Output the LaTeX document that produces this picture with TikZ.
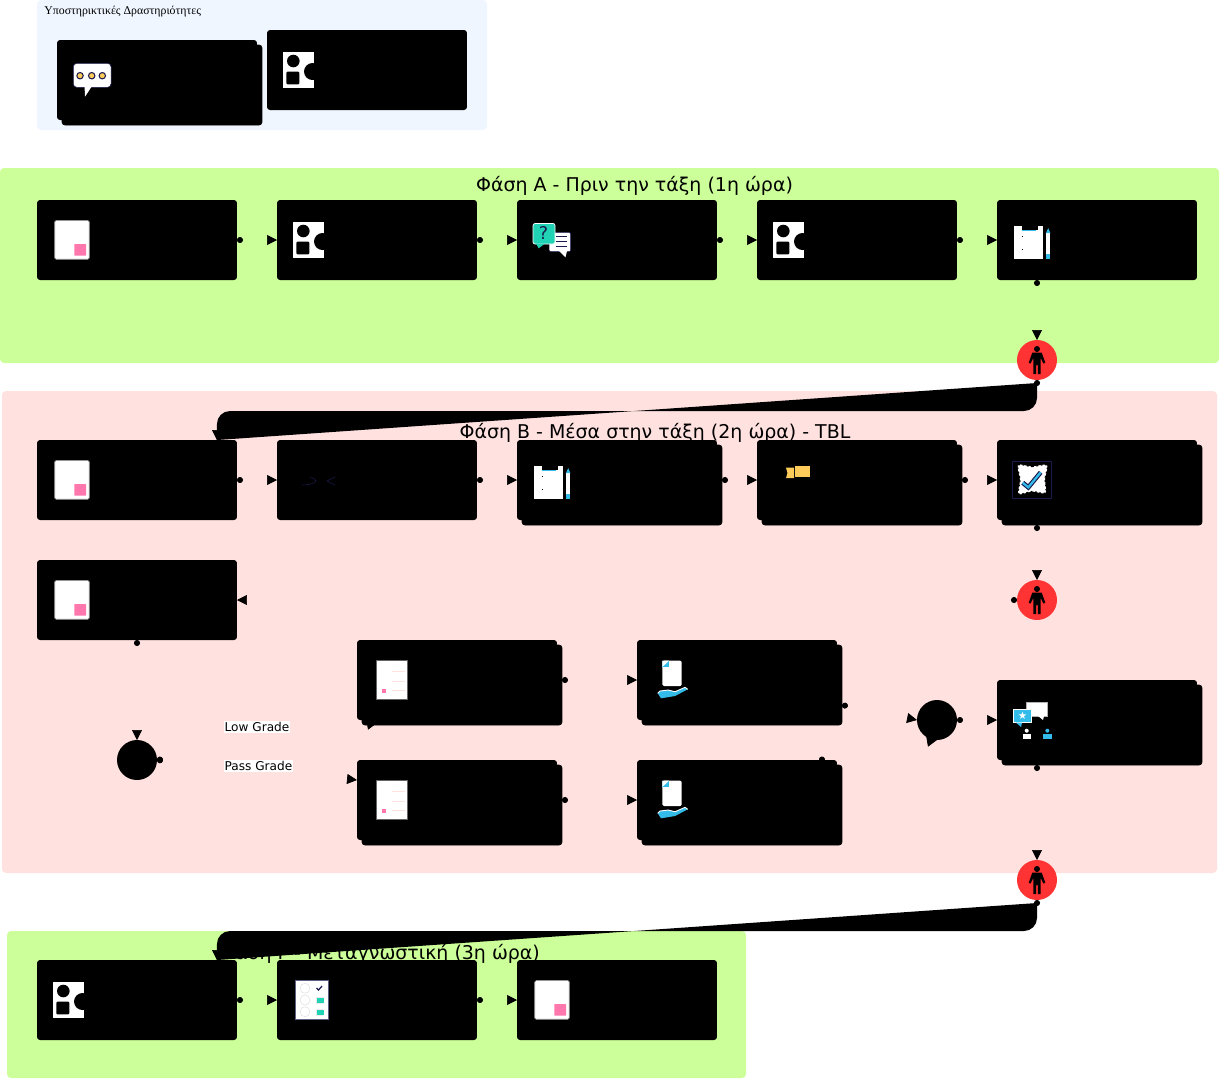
\documentclass[tikz,border=0pt]{standalone}
\usepackage{fontspec}
\setmainfont{DejaVu Sans}
\newfontfamily\supfont{Liberation Serif}
\usetikzlibrary{arrows.meta, positioning, calc, shadows}
\definecolor{phgreen}{HTML}{CCFF99}
\definecolor{phpink}{HTML}{FFE2DF}
\definecolor{supblue}{HTML}{EFF6FF}
\definecolor{alarm}{HTML}{FF3333}
\definecolor{navyi}{HTML}{1A1A4E}
\definecolor{pinki}{HTML}{FF77AD}
\definecolor{tealq}{HTML}{20D3B5}
\definecolor{cyani}{HTML}{33BBEA}
\definecolor{yellowi}{HTML}{FFCC5C}
\definecolor{greyi}{HTML}{666666}

\tikzset{
  actbox/.style={rectangle, fill=black, rounded corners=0.06cm, minimum width=4cm,
    minimum height=1.6cm, inner sep=0pt, outer sep=0pt},
  stackbox/.style={actbox, copy shadow={shadow xshift=0.1cm, shadow yshift=-0.1cm, fill=black}},
  gatenode/.style={circle, fill=black, minimum size=0.8cm, inner sep=0pt, outer sep=0pt},
  stopnode/.style={gatenode, fill=alarm},
  conn/.style={tips, black, {Circle[length=0.12cm, sep=0pt]}-{Triangle[length=0.2cm, width=0.2cm, sep=0pt]}},
  fatfill/.style={fill=black, rounded corners=0.26cm},
  phasetitle/.style={font=\fontsize{10.8}{12}\selectfont, text=black, inner sep=0pt},
  gradelabel/.style={font=\fontsize{6.9}{8}\selectfont, fill=white, inner sep=0.5pt}
}

% Icons, placed from the top left corner of their box
\newcommand{\iconpage}[1]{\begin{scope}[shift={(#1.north west)}]
  \fill[white, draw=greyi!70, line width=0.4pt, rounded corners=0.03cm] (17.7,20.5) rectangle (52.3,59.3);
  \fill[pinki, rounded corners=0.01cm] (37.3,44) rectangle (49,55.7);
\end{scope}}
\newcommand{\iconshapes}[1]{\begin{scope}[shift={(#1.north west)}]
  \fill[white] (16,22) rectangle (47,58);
  \fill[black] (26.3,31) circle (6.3);
  \fill[black, rounded corners=0.02cm] (19.3,41.7) rectangle (32.3,54.3);
  \fill[black] (45.5,41.5) circle (8.5);
\end{scope}}
\newcommand{\iconclip}[1]{\begin{scope}[shift={(#1.north west)}]
  \fill[white] (16.5,25.5) rectangle (46,59);
  \fill[black] (25,25.5) rectangle (41,30);
  \fill[cyani] (25,30) rectangle (39,31);
  \fill[black] (24.5,35.5) rectangle (26,36.5);
  \fill[black] (24.5,48.5) rectangle (26,49.5);
  \fill[white] (49,33) rectangle (53.3,54);
  \fill[cyani] (49,33) -- (51.2,28) -- (53.3,33) -- cycle;
  \fill[cyani] (49,54) rectangle (53.3,59);
\end{scope}}
\newcommand{\icondoc}[1]{\begin{scope}[shift={(#1.north west)}]
  \fill[white, draw=greyi, line width=0.4pt] (19.7,20.7) rectangle (50.3,59.3);
  \fill[pinki] (24.7,49) rectangle (29,53);
  \draw[phpink, line width=0.3pt] (34.7,31) -- (48,31) (34.7,41) -- (48,41) (34.7,50) -- (48,50);
\end{scope}}
\newcommand{\iconhand}[1]{\begin{scope}[shift={(#1.north west)}]
  \fill[white, rounded corners=0.03cm] (25.3,20.7) rectangle (44.7,46);
  \fill[cyani] (25.3,20.7) -- (32,20.7) -- (32,27) -- (25.3,27) -- cycle;
  \fill[white] (25.3,27) -- (32,20.7) -- (25.3,20.7) -- cycle;
  \fill[cyani] (20.7,53.3) -- (24,58.3) -- (38,56) -- (50.7,49.3) -- (48,47.3) -- (38,51.7) -- (31,50) -- (23,51) -- cycle;
  \draw[white, line width=0.5pt] (20.7,53.3) -- (23,51) -- (31,50) -- (38,51.7) -- (48,47.3) -- (50.7,49.3);
\end{scope}}

\begin{document}
\begin{tikzpicture}[x=0.02cm, y=-0.02cm]
\useasboundingbox (0,0) rectangle (1221,1080);

% Phase panels
\fill[supblue, rounded corners=0.08cm] (37,0) rectangle (487,130);
\fill[phgreen, rounded corners=0.08cm] (0,168) rectangle (1219,363);
\fill[phpink, rounded corners=0.08cm] (2,391) rectangle (1217,873);
\fill[phgreen, rounded corners=0.08cm] (7,931) rectangle (746,1078);

% Titles
\node[font=\supfont\fontsize{6.73}{8}\selectfont, anchor=west, inner sep=0pt] (suptitle) at (44,11.5)
  {Υποστηρικτικές Δραστηριότητες};
\node[phasetitle] (titlea) at (634.5,186) {Φάση Α - Πριν την τάξη (1η ώρα)};
\node[phasetitle] (titleb) at (655,433) {Φάση Β - Μέσα στην τάξη (2η ώρα) - TBL};
\node[phasetitle] (titlec) at (380,954) {Φάση Γ - Μεταγνωστική (3η ώρα)};

% Support activities
\node[stackbox] (sa) at (157,80) {};
\node[actbox] (sb) at (367,70) {};

% Phase A
\foreach \nm/\xx in {a1/137, a2/377, a3/617, a4/857, a5/1097}
  \node[actbox] (\nm) at (\xx,240) {};
\node[stopnode] (stopa) at (1037,360) {};

% Phase B
\node[actbox] (b1) at (137,480) {};
\node[actbox] (b2) at (377,480) {};
\node[stackbox] (b3) at (617,480) {};
\node[stackbox] (b4) at (857,480) {};
\node[stackbox] (b5) at (1097,480) {};
\node[stopnode] (stopb) at (1037,600) {};
\node[actbox] (b6) at (137,600) {};
\node[gatenode] (split) at (137,760) {};
\node[stackbox] (low) at (457,680) {};
\node[stackbox] (pass) at (457,800) {};
\node[stackbox] (fb1) at (737,680) {};
\node[stackbox] (fb2) at (737,800) {};
\node[gatenode] (merge) at (937,720) {};
\node[stackbox] (rev) at (1097,720) {};
\node[stopnode] (stopc) at (1037,880) {};

% Phase C
\node[actbox] (c1) at (137,1000) {};
\node[actbox] (c2) at (377,1000) {};
\node[actbox] (c3) at (617,1000) {};

% Icons on the boxes
\foreach \nm in {a1, b1, b6, c3} \iconpage{\nm};
\foreach \nm in {sb, a2, a4, c1} \iconshapes{\nm};
\foreach \nm in {a5, b3} \iconclip{\nm};
\foreach \nm in {low, pass} \icondoc{\nm};
\foreach \nm in {fb1, fb2} \iconhand{\nm};

% Speech bubble with dots
\begin{scope}[shift={(sa.north west)}]
  \fill[white, draw=navyi, line width=0.3pt, rounded corners=0.07cm] (16.3,23.3) rectangle (54,47.3);
  \fill[white] (27.5,46) -- (28,56.7) -- (35,46) -- cycle;
  \foreach \xx in {23, 34.7, 45.3}
    \fill[yellowi, draw=navyi, line width=0.6pt] (\xx,35.7) circle (3.2);
\end{scope}

% Question and answer bubbles
\begin{scope}[shift={(a3.north west)}]
  \fill[white, draw=navyi, line width=0.3pt, rounded corners=0.04cm] (32,32.3) rectangle (53.7,51.7);
  \fill[white] (42,51) -- (48.4,57.3) -- (50,51) -- cycle;
  \draw[navyi, line width=0.5pt] (39.4,36.7) -- (50,36.7) (39.4,41.7) -- (50,41.7) (39.4,46.7) -- (50,46.7);
  \fill[tealq, draw=white, line width=0.4pt, rounded corners=0.04cm] (16,23.5) rectangle (38,44);
  \fill[tealq] (19,43.5) -- (21.6,48.3) -- (28,43.5) -- cycle;
  \node[text=navyi, font=\fontsize{10}{10}\selectfont, inner sep=0pt] (qmark) at (26.5,33) {?};
\end{scope}

% Two small arcs on the dark box
\begin{scope}[shift={(b2.north west)}]
  \draw[navyi, line width=0.3pt] (33,37.5) .. controls (37,38) and (39,40) .. (39,41) .. controls (37,44) and (30,45) .. (25,45);
  \draw[navyi, line width=0.3pt] (58,37) -- (50,41) -- (58,45);
\end{scope}

% Yellow notes
\begin{scope}[shift={(b4.north west)}]
  \fill[yellowi] (29,27.7) -- (37,27.7) -- (37,38) -- (29,38) -- (30.5,33) -- cycle;
  \fill[yellowi] (38,25.7) rectangle (53.3,37);
\end{scope}

% Stamp with check mark
\begin{scope}[shift={(b5.north west)}]
  \draw[navyi, line width=0.4pt] (15.3,21) rectangle (54.7,58.3);
  \fill[white] plot[smooth cycle, tension=0.5] coordinates
    {(21,25) (35,26.5) (50,25) (48,39) (48.5,53) (35,51.5) (21.5,54) (23,40)};
  \draw[black, line width=0.7pt, dash pattern=on 1pt off 1.5pt] plot[smooth cycle, tension=0.5] coordinates
    {(21,25) (35,26.5) (50,25) (48,39) (48.5,53) (35,51.5) (21.5,54) (23,40)};
  \draw[navyi, line width=2.6pt] (25.7,42.7) -- (31.3,47.3) -- (43.7,32.3);
  \draw[cyani, line width=1.3pt] (25.7,42.7) -- (31.3,47.3) -- (43.7,32.3);
\end{scope}

% Review bubbles and people
\begin{scope}[shift={(rev.north west)}]
  \fill[white, draw=greyi!50, line width=0.3pt] (29,22.3) rectangle (50.7,36);
  \fill[white] (41,36) -- (46,40) -- (47,36) -- cycle;
  \fill[cyani, draw=white, line width=0.4pt] (16.3,29.3) rectangle (34,42.7);
  \fill[cyani] (19,42.7) -- (24,47) -- (25,42.7) -- cycle;
  \node[text=white, font=\fontsize{6}{6}\selectfont, inner sep=0pt] (revstar) at (25.5,36) {★};
  \fill[white] (29.7,50.7) circle (2);
  \fill[white] (25.5,54) rectangle (34,59);
  \fill[cyani] (50.3,50.7) circle (2);
  \fill[cyani] (46,54) rectangle (54.5,59);
\end{scope}

% Survey sheet
\begin{scope}[shift={(c2.north west)}]
  \fill[white, draw=navyi!70, line width=0.5pt] (18.3,20.7) rectangle (51.3,59);
  \foreach \yy in {28.3, 40, 51.7}
    \draw[black!12, line width=0.3pt] (28,\yy) circle (5);
  \draw[navyi, line width=0.7pt] (39.5,28) -- (41.5,30) -- (45,26);
  \foreach \yy in {40.5, 52} {
    \fill[black!8] (39,\yy-3.5) rectangle (46,\yy+3.5);
    \fill[tealq] (40,\yy-2.5) rectangle (46.5,\yy+2.5);
  }
\end{scope}

% People on the red circles
\foreach \nm in {stopa, stopb, stopc} {
\begin{scope}[shift={(\nm.center)}]
  \fill[black] (0,-11) circle (3);
  \fill[black] (-4.7,-7.3) -- (4.7,-7.3) -- (8.3,2.7) -- (6.5,3.5) -- (3.7,-2) -- (3.7,14) -- (0.8,14) -- (0.8,5)
    -- (-0.8,5) -- (-0.8,14) -- (-3.7,14) -- (-3.7,-2) -- (-6.5,3.5) -- (-8.3,2.7) -- cycle;
\end{scope}
}

% Grade labels
\node[gradelabel] (lowlabel) at (257,727) {Low Grade};
\node[gradelabel] (passlabel) at (258.5,766) {Pass Grade};

% Entry points
\coordinate (b1in) at ($(b1.north west)!0.9!(b1.north east)$);
\coordinate (c1in) at ($(c1.north west)!0.9!(c1.north east)$);
\coordinate (a5out) at ($(a5.south west)!0.2!(a5.south east)$);
\coordinate (b5out) at ($(b5.south west)!0.2!(b5.south east)+(0,5)$);
\coordinate (revout) at ($(rev.south west)!0.2!(rev.south east)+(0,5)$);
\coordinate (lowin) at ($(low.south west)+(20,3)$);
\coordinate (passin) at ($(pass.west)+(0,-20)$);
\coordinate (fb1out) at ($(fb1.east)+(5,25)$);
\coordinate (fb2out) at ($(fb2.north west)+(182,0)$);
\coordinate (turna) at ($(stopa.south)+(0,31)$);
\coordinate (turnc) at ($(stopc.south)+(0,31)$);

% Connectors
\foreach \src/\dst in {a1/a2, a2/a3, a3/a4, a4/a5, b1/b2, b2/b3, c1/c2, c2/c3}
  \path[conn] (\src.east) -- (\dst.west);
\foreach \src/\dst in {b3/b4, b4/b5, low/fb1, pass/fb2}
  \path[conn] ([xshift=0.1cm]\src.east) -- (\dst.west);
\path[conn] (a5out) -- (stopa.north);
\path[conn] (b5out) -- (stopb.north);
\path[conn] (stopb.west) -- (b6.east);
\path[conn] (b6.south) -- (split.north);
\path[conn] (split.east) -- (lowin);
\path[conn] (split.east) -- (passin);
\path[conn] (fb1out) -- (merge.west);
\path[conn] (fb2out) -- (merge.south);
\path[conn] (merge.east) -- (rev.west);
\path[conn] (revout) -- (stopc.north);

% The two long connectors are filled
\fill[fatfill] ([yshift=-0.06cm]stopa.south) -- (turna) -| (b1in);
\path[conn] (stopa.south) -- (turna) -| (b1in);
\fill[fatfill] ([yshift=-0.06cm]stopc.south) -- (turnc) -| (c1in);
\path[conn] (stopc.south) -- (turnc) -| (c1in);

\end{tikzpicture}
\end{document}
